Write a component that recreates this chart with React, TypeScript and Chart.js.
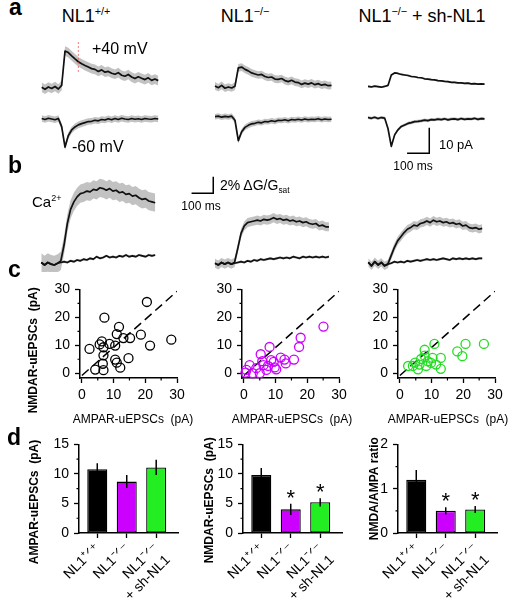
import React, { useEffect, useRef } from 'react';
import { Chart, registerables } from 'chart.js';

Chart.register(...registerables);

const FONT = '"Liberation Sans", Arial, Helvetica, sans-serif';
Chart.defaults.font.family = FONT;
Chart.defaults.color = '#000';

// ---------------- data ----------------
const GROUP_COLORS = ['#000000', '#cc00ff', '#22ee22'];
const CATEGORY_LABELS: (string | string[])[] = ['NL1\u207A\u141F\u207A', 'NL1\u207B\u141F\u207B', ['NL1\u207B\u141F\u207B', '+ sh-NL1']];
const SAMPLE_MS = 15;

const A_WT_POS = [0.3, -0.5, 0.4, -0.2, 0.6, -0.4, 1.0, 14.5, 13.9, 12.6, 11.4, 10.3, 9.5, 8.8, 8.2, 7.6, 7.3, 6.5, 7.1, 6.2, 6.5, 5.8, 5.4, 6.0, 5.0, 4.6, 5.3, 4.3, 3.7, 4.4, 3.8, 3.3, 4.0, 3.0, 3.5, 2.9];
const A_WT_NEG = [0.2, -0.2, 0.3, 0.0, -0.3, 0.2, -3.0, -11.0, -6.5, -4.3, -3.1, -2.3, -1.8, -1.4, -1.0, -0.9, -0.5, -0.7, -0.2, -0.4, 0.1, -0.3, 0.2, -0.2, 0.3, 0.0, -0.2, 0.2, -0.1, 0.1, -0.2, 0.2, 0.0, -0.1, 0.2, 0.0];
const A_KO_POS = [0.3, -0.4, 0.5, -0.6, -0.1, -0.5, 0.2, 7.4, 7.7, 6.8, 6.2, 5.4, 5.0, 4.6, 4.8, 4.0, 3.6, 3.8, 3.0, 2.9, 3.2, 2.4, 2.0, 2.5, 1.8, 1.6, 0.9, 1.4, 1.0, 1.5, 0.8, 1.2, 0.6, 0.9, 0.4, 0.5];
const A_KO_NEG = [0.4, 0.6, 0.2, 0.5, 0.3, 0.6, -1.0, -9.0, -5.5, -3.8, -3.0, -2.4, -2.2, -1.8, -2.0, -1.5, -1.6, -1.2, -1.5, -1.0, -1.1, -0.8, -1.2, -0.7, -0.9, -0.6, -0.9, -0.5, -0.8, -0.6, -0.7, -0.4, -0.8, -0.5, -0.7, -0.6];
const A_SH_POS = [0.1, -0.1, 0.2, 0.0, -0.2, 0.1, 0.5, 4.6, 5.4, 5.2, 4.8, 4.6, 4.4, 4.0, 3.9, 3.6, 3.5, 3.1, 3.0, 2.8, 2.7, 2.4, 2.3, 2.1, 2.0, 1.7, 1.7, 1.5, 1.5, 1.3, 1.4, 1.1, 1.2, 1.0, 1.1, 1.0];
const A_SH_NEG = [0.3, 0.0, 0.4, -0.1, 0.3, 0.1, -4.0, -11.0, -6.5, -4.5, -3.2, -2.6, -2.0, -1.7, -1.3, -1.2, -1.0, -0.7, -0.9, -0.5, -0.6, -0.3, -0.5, -0.2, -0.6, -0.3, -0.2, -0.5, -0.1, -0.4, -0.2, -0.3, 0.0, -0.4, -0.1, -0.2];
const A_WT_POS_SEM = 1.9;
const A_WT_NEG_SEM = 1.3;
const A_KO_POS_SEM = 1.5;
const A_KO_NEG_SEM = 1.1;
const A_SH_POS_SEM = 0.35;
const A_SH_NEG_SEM = 0.6;
const A_MARKER_MS = 165;
const A_MARKER_PA = [6.3, 18];
const A_SCALE_MS = 100;
const A_SCALE_PA = 10;
const A_SCALE_CORNER = { t: 276, v: -13.7 };

const B_WT_CTRL = [0.1, -0.2, 0.1, -0.1, -0.2, 0.0, 0.3, 2.2, 4.8, 6.5, 7.4, 8.0, 8.4, 8.5, 8.7, 8.6, 8.9, 8.8, 9.1, 9.0, 8.8, 9.0, 8.7, 8.8, 8.5, 8.6, 8.3, 8.4, 8.1, 8.2, 7.9, 7.7, 7.8, 7.5, 7.4, 7.3];
const B_WT_LOW = [0.1, -0.2, 0.1, -0.1, -0.2, 0.0, 0.1, 0.2, 0.1, 0.3, 0.2, 0.4, 0.3, 0.5, 0.4, 0.6, 0.5, 0.8, 0.6, 0.7, 0.9, 0.7, 0.8, 0.7, 0.9, 0.8, 1.0, 0.8, 0.9, 0.8, 1.0, 0.9, 0.8, 1.0, 0.9, 1.0];
const B_KO_CTRL = [0.0, -0.2, 0.1, -0.1, 0.1, -0.1, 0.1, 1.8, 3.6, 4.5, 4.9, 5.0, 5.1, 5.2, 5.1, 5.3, 5.2, 5.3, 5.5, 5.3, 5.4, 5.2, 5.3, 5.1, 5.2, 5.0, 5.1, 4.9, 5.0, 4.8, 4.7, 4.8, 4.5, 4.6, 4.4, 4.4];
const B_KO_LOW = [0.0, -0.2, 0.1, -0.1, 0.1, -0.1, 0.0, 0.1, 0.2, 0.1, 0.3, 0.2, 0.4, 0.3, 0.5, 0.4, 0.5, 0.6, 0.5, 0.6, 0.7, 0.6, 0.7, 0.6, 0.8, 0.7, 0.6, 0.8, 0.7, 0.8, 0.7, 0.8, 0.7, 0.8, 0.7, 0.8];
const B_SH_CTRL = [0.1, -0.3, 0.2, -0.2, 0.1, -0.3, -0.1, 0.9, 1.9, 2.7, 3.2, 3.7, 4.1, 4.3, 4.6, 4.5, 4.8, 4.9, 5.1, 4.9, 5.2, 5.0, 5.1, 4.9, 5.0, 4.8, 4.9, 4.7, 4.8, 4.5, 4.6, 4.3, 4.2, 4.3, 4.1, 4.2];
const B_SH_LOW = [0.1, -0.3, 0.2, -0.2, 0.1, -0.3, -0.1, 0.0, 0.2, 0.1, 0.2, 0.1, 0.3, 0.2, 0.3, 0.4, 0.3, 0.4, 0.5, 0.4, 0.5, 0.4, 0.5, 0.6, 0.5, 0.4, 0.6, 0.5, 0.6, 0.5, 0.6, 0.5, 0.6, 0.5, 0.6, 0.6];
const B_WT_CTRL_SEM = 1.1;
const B_KO_CTRL_SEM = 0.55;
const B_SH_CTRL_SEM = 0.5;
const B_LOW_SEM = 0.15;
const B_SCALE_MS = 100;
const B_SCALE_PCT = 2;
const B_SCALE_CORNER = { t: -8, v: 8.43 };

const C_WT_AMPA = [2.4, 7.1, 20.5, 6.3, 11.7, 11.0, 6.8, 8.7, 10.5, 6.8, 6.6, 10.5, 11.0, 14.7, 12.1, 4.2, 6.8, 15.2, 18.6, 21.5, 28.2, 13.1, 5.6];
const C_WT_NMDA = [8.7, 19.9, 25.5, 11.4, 16.6, 14.0, 9.3, 10.5, 9.9, 6.4, 3.4, 4.9, 3.8, 5.4, 2.0, 1.3, 1.1, 12.6, 13.8, 9.9, 12.0, 12.6, 10.3];
const C_KO_AMPA = [25.1, 17.9, 17.4, 8.1, 5.3, 8.6, 9.4, 12.8, 13.2, 15.8, 1.8, 6.2, 3.9, 7.1, 10.2, 0.8, 2.8, 5.0, 9.7, 7.6, 5.8, 11.6, 0.5];
const C_KO_NMDA = [16.7, 12.7, 9.4, 9.4, 6.8, 4.7, 4.1, 4.9, 3.5, 4.9, 2.9, 2.9, 1.8, 1.2, 1.4, 1.2, 0.0, 0.0, 2.1, 2.6, 4.3, 5.6, 0.2];
const C_SH_AMPA = [26.5, 20.7, 19.7, 18.1, 12.9, 10.9, 7.8, 6.7, 10.3, 9.8, 11.4, 12.9, 6.2, 4.1, 2.6, 5.7, 8.3, 8.8, 7.8, 4.8];
const C_SH_NMDA = [10.5, 10.5, 6.1, 7.8, 5.5, 10.5, 8.4, 5.1, 5.5, 3.7, 3.1, 1.6, 3.1, 2.6, 2.6, 1.4, 2.6, 4.3, 6.3, 3.8];
const C_DIAG_X = [0, 30];
const C_DIAG_Y = [-0.8, 29.3];
const C_TICKS = [0, 10, 20, 30];
const C_MINOR = [5, 15, 25];

const D_AMPA_MEAN = [10.8, 8.7, 11.1];
const D_AMPA_SEM = [1.0, 1.1, 1.3];
const D_NMDA_MEAN = [9.8, 4.0, 5.2];
const D_NMDA_SEM = [1.2, 0.95, 0.7];
const D_RATIO_MEAN = [1.2, 0.5, 0.53];
const D_RATIO_SEM = [0.22, 0.08, 0.08];
const D_NMDA_SIG = [false, true, true];
const D_RATIO_SIG = [false, true, true];
const D_PA_TICKS = [0, 5, 10, 15];
const D_PA_MINOR = [2.5, 7.5, 12.5];
const D_RATIO_TICKS = [0, 1, 2];
const D_RATIO_MINOR = [0.5, 1.5];
const D_CAT_TICKS = [0, 1, 2];

// ---------------- styles ----------------
const TRACE_COLOR = '#111111';
const BAND_COLOR = '#c2c2c2';
const NBSP = '\u00a0';

type Box = { left: number; top: number; width: number; height: number };
type TraceGeom = { x0: number; y0: number; pxT: number; pxV: number; tMin: number; tMax: number; vMin: number; vMax: number };
type Series = { values: number[]; sem: number };

const toXY = (vals: number[]) => vals.map((v, i) => ({ x: i * SAMPLE_MS, y: v }));

const pathSet = (pts: { x: number; y: number }[], color: string, width: number, dash: number[] = []) => ({
  data: pts,
  borderColor: color,
  borderWidth: width,
  borderDash: dash,
  pointRadius: 0,
  tension: 0,
  fill: false,
  borderCapStyle: 'butt',
});

function traceSetup(g: TraceGeom, series: Series[], extras: any[] = []) {
  const left = Math.round(g.x0 + g.tMin * g.pxT);
  const right = Math.round(g.x0 + g.tMax * g.pxT);
  const top = Math.round(g.y0 - g.vMax * g.pxV);
  const bottom = Math.round(g.y0 - g.vMin * g.pxV);
  const box: Box = { left, top, width: right - left, height: bottom - top };
  const lines = series.map((s) => ({
    data: toXY(s.values),
    borderColor: TRACE_COLOR,
    borderWidth: 1.7,
    pointRadius: 0,
    tension: 0,
    fill: false,
    borderJoinStyle: 'round',
  }));
  const bands = series.flatMap((s) => [
    { data: toXY(s.values.map((v) => v + s.sem)), borderWidth: 0, borderColor: 'rgba(0,0,0,0)', pointRadius: 0, tension: 0, fill: '+1', backgroundColor: BAND_COLOR },
    { data: toXY(s.values.map((v) => v - s.sem)), borderWidth: 0, borderColor: 'rgba(0,0,0,0)', pointRadius: 0, tension: 0, fill: false },
  ]);
  const config = {
    type: 'line',
    data: { datasets: [...extras, ...lines, ...bands] },
    options: {
      animation: false,
      responsive: false,
      maintainAspectRatio: false,
      devicePixelRatio: 1,
      events: [],
      layout: { padding: 0, autoPadding: false },
      plugins: { legend: { display: false }, tooltip: { enabled: false } },
      scales: {
        x: { type: 'linear', display: false, min: (left - g.x0) / g.pxT, max: (right - g.x0) / g.pxT },
        y: { type: 'linear', display: false, min: (g.y0 - bottom) / g.pxV, max: (g.y0 - top) / g.pxV },
      },
    },
  };
  return { box, config };
}

const BORDER = { display: true, color: '#000', width: 1.5 };
const GRID = { display: true, drawOnChartArea: false, drawTicks: true, tickLength: 5, tickWidth: 1.3, tickColor: '#000', color: '#000' };

function minorTicks(xMinor: number[], yMinor: number[], len: number) {
  return {
    id: 'minorTicks',
    afterDraw(chart: any) {
      const { ctx, chartArea, scales } = chart;
      ctx.save();
      ctx.strokeStyle = '#000';
      ctx.lineWidth = 1.2;
      ctx.beginPath();
      yMinor.forEach((v) => {
        const y = scales.y.getPixelForValue(v);
        ctx.moveTo(chartArea.left, y);
        ctx.lineTo(chartArea.left - len, y);
      });
      xMinor.forEach((v) => {
        const x = scales.x.getPixelForValue(v);
        ctx.moveTo(x, chartArea.bottom);
        ctx.lineTo(x, chartArea.bottom + len);
      });
      ctx.stroke();
      ctx.restore();
    },
  };
}

function starPlugin(means: number[], sems: number[], sig: boolean[]) {
  return {
    id: 'stars',
    afterDatasetsDraw(chart: any) {
      const { ctx, scales } = chart;
      ctx.save();
      ctx.fillStyle = '#000';
      ctx.font = `22px ${FONT}`;
      ctx.textAlign = 'center';
      ctx.textBaseline = 'alphabetic';
      means.forEach((m, i) => {
        if (!sig[i]) return;
        const x = scales.x.getPixelForValue(i);
        const y = scales.y.getPixelForValue(m + sems[i]);
        ctx.fillText('*', x, y + 1);
      });
      ctx.restore();
    },
  };
}

// ---- scatter (c) ----
const C_TOP = 288;
const C_W = 97;
const C_H = 90;
const C_XH = 40;
const C_PADT = 12;
const C_PADR = 18;

function scatterSetup(areaLeft: number, ampa: number[], nmda: number[], color: string, yTitle: string | null) {
  const yw = yTitle ? 60 : 40;
  const box: Box = { left: areaLeft - yw, top: C_TOP - C_PADT, width: yw + C_W + C_PADR, height: C_PADT + C_H + C_XH };
  const config = {
    type: 'scatter',
    data: {
      datasets: [
        {
          data: ampa.map((a, i) => ({ x: a, y: nmda[i] })),
          pointRadius: 4.5,
          pointHoverRadius: 4.5,
          pointBorderWidth: 1.3,
          pointBorderColor: color,
          borderColor: color,
          pointBackgroundColor: 'rgba(0,0,0,0)',
          backgroundColor: 'rgba(0,0,0,0)',
          showLine: false,
          clip: false,
        },
        { ...pathSet(C_DIAG_X.map((x, i) => ({ x, y: C_DIAG_Y[i] })), '#000', 1.5, [9, 5]), showLine: true },
      ],
    },
    options: {
      animation: false,
      responsive: false,
      maintainAspectRatio: false,
      devicePixelRatio: 1,
      events: [],
      layout: { padding: { top: C_PADT, right: C_PADR, left: 0, bottom: 0 }, autoPadding: false },
      plugins: { legend: { display: false }, tooltip: { enabled: false } },
      scales: {
        x: {
          type: 'linear',
          min: -0.6,
          max: 30,
          afterBuildTicks: (s: any) => { s.ticks = C_TICKS.map((v) => ({ value: v })); },
          afterFit: (s: any) => { s.height = C_XH; },
          border: BORDER,
          grid: GRID,
          ticks: { font: { size: 14 }, color: '#000', padding: 4, maxRotation: 0, autoSkip: false },
        },
        y: {
          type: 'linear',
          min: -1.7,
          max: 30,
          afterBuildTicks: (s: any) => { s.ticks = C_TICKS.map((v) => ({ value: v })); },
          afterFit: (s: any) => { s.width = yw; },
          border: BORDER,
          grid: GRID,
          ticks: { font: { size: 14 }, color: '#000', padding: 5, autoSkip: false },
          title: { display: !!yTitle, text: yTitle || '', color: '#000', font: { size: 12, weight: 'bold' }, padding: { top: 6, bottom: 0 } },
        },
      },
    },
    plugins: [minorTicks(C_MINOR, C_MINOR, 2.5)],
  };
  return { box, config };
}

// ---- bars (d) ----
const D_TOP = 443;
const D_W = 99;
const D_H = 90;
const D_XH = 68;
const D_PADT = 12;
const D_PADR = 6;

function barSetup(areaLeft: number, yw: number, means: number[], sems: number[], sig: boolean[], yMax: number, yTicks: number[], yMinor: number[], yTitle: string, titlePad: number) {
  const box: Box = { left: areaLeft - yw, top: D_TOP - D_PADT, width: yw + D_W + D_PADR, height: D_PADT + D_H + D_XH };
  const errPts = means.flatMap((m, i) => [
    { x: i, y: m - sems[i] },
    { x: i, y: m + sems[i] },
    { x: i + 0.5, y: null as any },
  ]);
  const config = {
    type: 'bar',
    data: {
      datasets: [
        { type: 'line', ...pathSet(errPts, '#000', 1.5), spanGaps: false, order: 0 },
        {
          type: 'bar',
          data: means.map((m, i) => ({ x: i, y: m })),
          backgroundColor: GROUP_COLORS,
          borderColor: '#000',
          borderWidth: 1.3,
          borderSkipped: false,
          barPercentage: 0.68,
          categoryPercentage: 1,
          order: 1,
        },
      ],
    },
    options: {
      animation: false,
      responsive: false,
      maintainAspectRatio: false,
      devicePixelRatio: 1,
      events: [],
      layout: { padding: { top: D_PADT, right: D_PADR, left: 0, bottom: 0 }, autoPadding: false },
      plugins: { legend: { display: false }, tooltip: { enabled: false } },
      scales: {
        x: {
          type: 'linear',
          min: -0.62,
          max: 2.74,
          offset: false,
          afterBuildTicks: (s: any) => { s.ticks = D_CAT_TICKS.map((v) => ({ value: v })); },
          afterFit: (s: any) => { s.height = D_XH; },
          border: BORDER,
          grid: { ...GRID, offset: false },
          ticks: {
            font: { size: 14 },
            color: '#000',
            padding: 2,
            minRotation: 45,
            maxRotation: 45,
            autoSkip: false,
            callback: (v: number) => CATEGORY_LABELS[v],
          },
        },
        y: {
          type: 'linear',
          min: 0,
          max: yMax,
          afterBuildTicks: (s: any) => { s.ticks = yTicks.map((v) => ({ value: v })); },
          afterFit: (s: any) => { s.width = yw; },
          border: BORDER,
          grid: GRID,
          ticks: { font: { size: 14 }, color: '#000', padding: 5, autoSkip: false },
          title: { display: true, text: yTitle, color: '#000', font: { size: 12, weight: 'bold' }, padding: { top: titlePad, bottom: 0 } },
        },
      },
    },
    plugins: [minorTicks([], yMinor, 2.5), starPlugin(means, sems, sig)],
  };
  return { box, config };
}

// ---------------- layout of trace panels ----------------
const A_PX_MS = 0.222;
const A_PX_PA = 2.55;
const B_PX_MS = 0.217;
const B_PX_PCT = 8.3;

const aGeom = (x0: number, y0: number, vMin: number, vMax: number): TraceGeom => ({ x0, y0, pxT: A_PX_MS, pxV: A_PX_PA, tMin: -8, tMax: 533, vMin, vMax });

const TRACE_PANELS = [
  traceSetup(aGeom(41.7, 88, -4.5, 20), [{ values: A_WT_POS, sem: A_WT_POS_SEM }], [
    pathSet(A_MARKER_PA.map((v) => ({ x: A_MARKER_MS, y: v })), 'rgba(235,80,80,0.75)', 1, [2, 2]),
  ]),
  traceSetup(aGeom(41.7, 119, -13.5, 3.5), [{ values: A_WT_NEG, sem: A_WT_NEG_SEM }]),
  traceSetup(aGeom(215, 86.7, -4, 10.5), [{ values: A_KO_POS, sem: A_KO_POS_SEM }]),
  traceSetup(aGeom(215, 117.7, -12, 3.5), [{ values: A_KO_NEG, sem: A_KO_NEG_SEM }]),
  traceSetup(aGeom(368, 86.7, -3, 7.5), [{ values: A_SH_POS, sem: A_SH_POS_SEM }]),
  traceSetup(aGeom(368, 118.3, -14.5, 3), [{ values: A_SH_NEG, sem: A_SH_NEG_SEM }], [
    pathSet(
      [
        { x: A_SCALE_CORNER.t - A_SCALE_MS, y: A_SCALE_CORNER.v },
        { x: A_SCALE_CORNER.t, y: A_SCALE_CORNER.v },
        { x: A_SCALE_CORNER.t, y: A_SCALE_CORNER.v + A_SCALE_PA },
      ],
      '#000',
      1.5,
    ),
  ]),
  traceSetup({ x0: 41.3, y0: 263.3, pxT: B_PX_MS, pxV: B_PX_PCT, tMin: -8, tMax: 535, vMin: -1, vMax: 11 }, [
    { values: B_WT_CTRL, sem: B_WT_CTRL_SEM },
    { values: B_WT_LOW, sem: B_LOW_SEM },
  ]),
  traceSetup(
    { x0: 215, y0: 263.3, pxT: B_PX_MS, pxV: B_PX_PCT, tMin: -135, tMax: 535, vMin: -1, vMax: 11.2 },
    [
      { values: B_KO_CTRL, sem: B_KO_CTRL_SEM },
      { values: B_KO_LOW, sem: B_LOW_SEM },
    ],
    [
      pathSet(
        [
          { x: B_SCALE_CORNER.t - B_SCALE_MS, y: B_SCALE_CORNER.v },
          { x: B_SCALE_CORNER.t, y: B_SCALE_CORNER.v },
          { x: B_SCALE_CORNER.t, y: B_SCALE_CORNER.v + B_SCALE_PCT },
        ],
        '#000',
        1.5,
      ),
    ],
  ),
  traceSetup({ x0: 368.3, y0: 263.3, pxT: B_PX_MS, pxV: B_PX_PCT, tMin: -8, tMax: 535, vMin: -1, vMax: 8 }, [
    { values: B_SH_CTRL, sem: B_SH_CTRL_SEM },
    { values: B_SH_LOW, sem: B_LOW_SEM },
  ]),
];

const SCATTER_PANELS = [
  scatterSetup(80, C_WT_AMPA, C_WT_NMDA, GROUP_COLORS[0], 'NMDAR-uEPSCs  (pA)' + NBSP.repeat(10)),
  scatterSetup(242, C_KO_AMPA, C_KO_NMDA, '#cc00ff', null),
  scatterSetup(398, C_SH_AMPA, C_SH_NMDA, '#22dd22', null),
];

const BAR_PANELS = [
  barSetup(79, 59, D_AMPA_MEAN, D_AMPA_SEM, [false, false, false], 15, D_PA_TICKS, D_PA_MINOR, 'AMPAR-uEPSCs  (pA)' + NBSP.repeat(8), 7),
  barSetup(243, 47, D_NMDA_MEAN, D_NMDA_SEM, D_NMDA_SIG, 15, D_PA_TICKS, D_PA_MINOR, 'NMDAR-uEPSCs  (pA)' + NBSP.repeat(7), 6),
  barSetup(398, 46, D_RATIO_MEAN, D_RATIO_SEM, D_RATIO_SIG, 2, D_RATIO_TICKS, D_RATIO_MINOR, 'NMDA/AMPA ratio', 15),
];

// ---------------- components ----------------
function ChartCanvas({ box, config }: { box: Box; config: any }) {
  const ref = useRef<HTMLCanvasElement>(null);
  useEffect(() => {
    const chart = new Chart(ref.current as HTMLCanvasElement, config);
    return () => chart.destroy();
  }, []);
  return (
    <canvas
      ref={ref}
      width={box.width}
      height={box.height}
      style={{ position: 'absolute', left: box.left, top: box.top, width: box.width, height: box.height }}
    />
  );
}

function Label({ x, y, size, bold, center, children }: { x: number; y: number; size: number; bold?: boolean; center?: boolean; children: any }) {
  return (
    <div
      style={{
        position: 'absolute',
        left: x,
        top: y - 0.8465 * size,
        fontSize: size,
        lineHeight: 1,
        fontWeight: bold ? 700 : 400,
        whiteSpace: 'nowrap',
        transform: center ? 'translateX(-50%)' : undefined,
      }}
    >
      {children}
    </div>
  );
}

const Sup = ({ children }: { children: any }) => (
  <span style={{ fontSize: '0.6em', position: 'relative', top: '-0.6em' }}>{children}</span>
);
const Sub = ({ children }: { children: any }) => (
  <span style={{ fontSize: '0.6em', position: 'relative', top: '0.3em' }}>{children}</span>
);

const C_X_TITLE = 'AMPAR-uEPSCs\u00a0\u00a0(pA)';

export default function App() {
  return (
    <div
      style={{
        position: 'absolute',
        left: 0,
        top: 0,
        width: 514,
        height: 601,
        overflow: 'hidden',
        background: '#fff',
        color: '#000',
        fontFamily: FONT,
      }}
    >
      {TRACE_PANELS.map((p, i) => (
        <ChartCanvas key={'t' + i} box={p.box} config={p.config} />
      ))}
      {SCATTER_PANELS.map((p, i) => (
        <ChartCanvas key={'s' + i} box={p.box} config={p.config} />
      ))}
      {BAR_PANELS.map((p, i) => (
        <ChartCanvas key={'b' + i} box={p.box} config={p.config} />
      ))}

      <Label x={9} y={15} size={23} bold>a</Label>
      <Label x={8} y={173} size={23} bold>b</Label>
      <Label x={8} y={277} size={23} bold>c</Label>
      <Label x={7} y={445} size={23} bold>d</Label>

      <Label x={86} y={22} size={18} center>NL1<Sup>+/+</Sup></Label>
      <Label x={245} y={22} size={18} center>NL1<Sup>−/−</Sup></Label>
      <Label x={422} y={22} size={18} center>NL1<Sup>−/−</Sup> + sh-NL1</Label>

      <Label x={92} y={55} size={16}>+40 mV</Label>
      <Label x={72} y={153} size={16}>-60 mV</Label>
      <Label x={439} y={149.5} size={13}>10 pA</Label>
      <Label x={413} y={170} size={12} center>100 ms</Label>

      <Label x={32} y={206.5} size={15}>Ca<Sup>2+</Sup></Label>
      <Label x={220} y={190} size={14}>2% ΔG/G<Sub>sat</Sub></Label>
      <Label x={201} y={210} size={12} center>100 ms</Label>

      <Label x={133} y={423} size={12} center>{C_X_TITLE}</Label>
      <Label x={292} y={423} size={12} center>{C_X_TITLE}</Label>
      <Label x={448} y={423} size={12} center>{C_X_TITLE}</Label>
    </div>
  );
}
